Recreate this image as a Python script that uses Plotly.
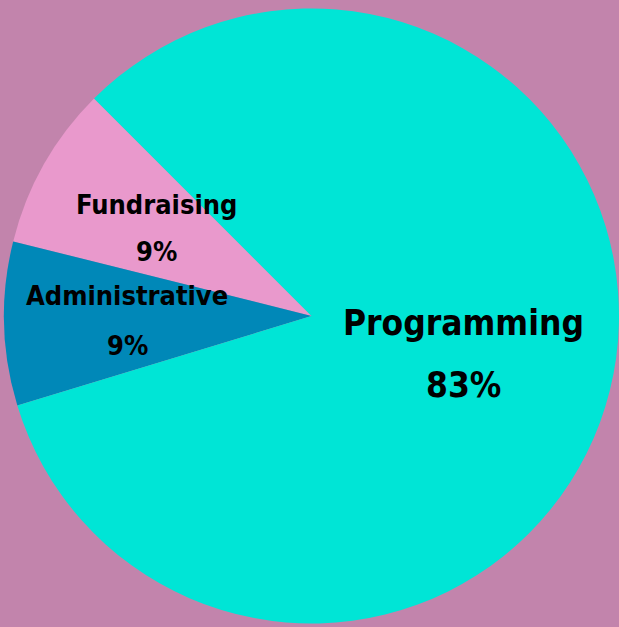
import numpy as np
import plotly.graph_objects as go

labels = ["Fundraising", "Administrative", "Programming"]
values = [8.6, 8.6, 82.8]
colors = ["#E999CC", "#0088B8", "#00E5D6"]
label_sizes = [27, 27, 35]
label_radius = [0.58, 0.60, 0.51]
label_pitch = [47, 50, 62]

W, H = 619, 627
ml, mr, mt, mb = 4, 0, 5, 0
pw, ph = W - ml - mr, H - mt - mb
R = min(pw, ph) / 2.0
start_deg = 135.0  # math angle where first slice starts (counterclockwise)

total = float(np.sum(values))
first_span = 360.0 * values[0] / total

fig = go.Figure(go.Pie(
    labels=labels, values=values, sort=False,
    direction="counterclockwise", rotation=90 - start_deg - first_span,
    marker=dict(colors=colors, line=dict(width=0)),
    textinfo="none", hoverinfo="label+percent", showlegend=False,
    domain=dict(x=[0, 1], y=[0, 1]),
))

cum = np.cumsum([0] + values)
font_family = "DejaVu Sans Condensed, Liberation Sans Narrow, sans-serif"
for i, lab in enumerate(labels):
    mid = np.deg2rad(start_deg + 360.0 * (cum[i] + cum[i + 1]) / 2.0 / total)
    r = label_radius[i] * R
    xp = 0.5 + r * np.cos(mid) / pw
    yp = 0.5 + r * np.sin(mid) / ph
    pct = round(100 * values[i] / total)
    f = dict(family=font_family, size=label_sizes[i], color="#000000", weight="bold")
    for txt, shift in ((lab, label_pitch[i] / 2.0), (f"{pct}%", -label_pitch[i] / 2.0)):
        fig.add_annotation(
            x=xp, y=yp, xref="paper", yref="paper", showarrow=False,
            text=txt, font=f, yshift=shift,
            align="center", xanchor="center", yanchor="middle",
        )

fig.update_layout(
    width=W, height=H,
    margin=dict(l=ml, r=mr, t=mt, b=mb, pad=0),
    paper_bgcolor="#C284AC", plot_bgcolor="#C284AC",
)
fig.write_html(
    "out.html",
    config={"displayModeBar": False},
    post_script="document.body.style.margin='0';document.body.style.padding='0';"
                "document.documentElement.style.background='#C284AC';",
)
